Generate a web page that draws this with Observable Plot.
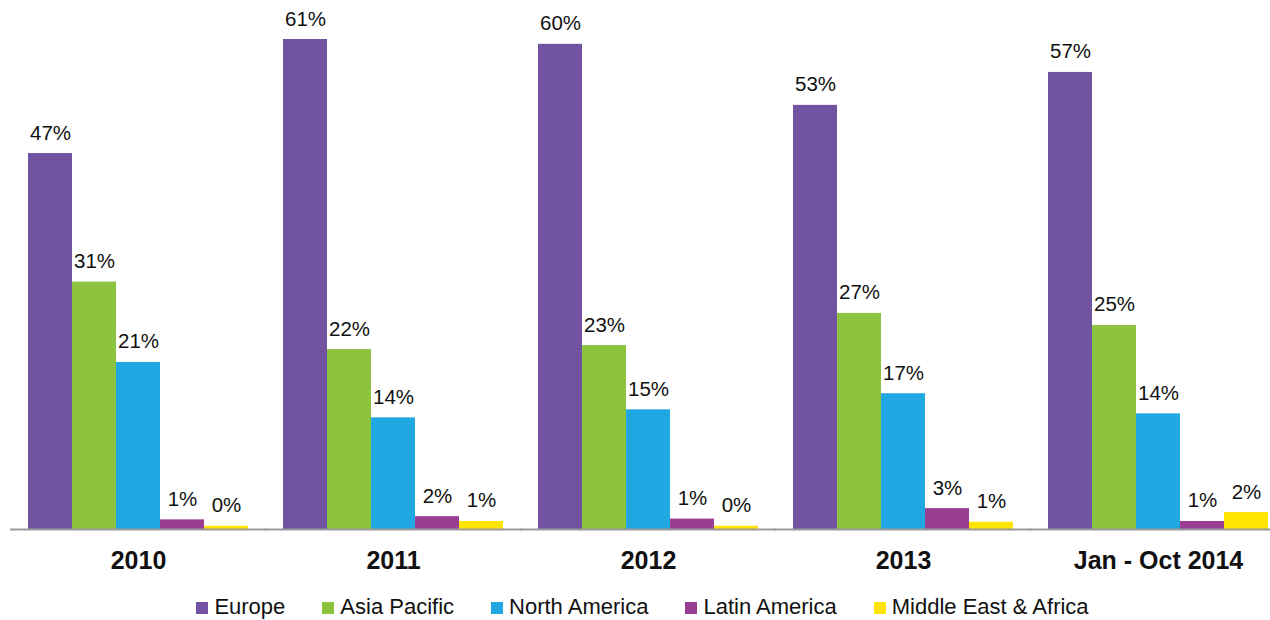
<!DOCTYPE html>
<html>
<head>
<meta charset="utf-8">
<script src="https://cdn.jsdelivr.net/npm/d3@7"></script>
<script src="https://cdn.jsdelivr.net/npm/@observablehq/plot@0.6"></script>
<style>
  html, body { margin: 0; padding: 0; background: #fff; overflow: hidden; width: 1270px; height: 620px; }
  body { font-family: "Liberation Sans", Arial, sans-serif; color: #111; }
  #chart { width: 1270px; height: 585px; overflow: hidden; }
  #chart svg { display: block; max-width: none !important; }
  #legend { display: flex; justify-content: center; gap: 37px; font-size: 22px; line-height: 22px; padding-left: 15px; width: 1270px; box-sizing: border-box; margin-top: 11px; white-space: nowrap; }
  #legend .item { display: inline-block; }
  #legend .sw { display: inline-block; width: 12px; height: 12px; margin-right: 6px; vertical-align: baseline; }
</style>
</head>
<body>
<div id="chart"></div>
<div id="legend"></div>
<script>
const groups = ["2010", "2011", "2012", "2013", "Jan - Oct 2014"];
const regions = ["Europe", "Asia Pacific", "North America", "Latin America", "Middle East & Africa"];
const colors = ["#7153a1", "#8cc43f", "#1fa8e1", "#9a3e94", "#ffe500"];

const europe       = [46.8, 61.0, 60.4, 52.8, 56.9];
const asiaPacific  = [30.8, 22.4, 22.9, 26.9, 25.4];
const northAmerica = [20.8, 13.9, 14.9, 16.9, 14.4];
const latinAmerica = [1.2, 1.6, 1.3, 2.6, 1.0];
const middleEastAfrica = [0.4, 1.0, 0.4, 0.9, 2.1];

const series = [europe, asiaPacific, northAmerica, latinAmerica, middleEastAfrica];
const data = [];
groups.forEach((g, gi) => {
  regions.forEach((r, ri) => {
    data.push({group: g, region: r, value: series[ri][gi]});
  });
});

const chart = Plot.plot({
  width: 1286,
  height: 585,
  marginLeft: 10,
  marginRight: 0,
  marginTop: 39,
  marginBottom: 56,
  style: {fontFamily: "'Liberation Sans', Arial, sans-serif", fontSize: "20px", color: "#111", background: "#fff"},
  fx: {domain: groups, paddingInner: 0.131, paddingOuter: 0.0626, label: null},
  x: {domain: regions, padding: 0, axis: null},
  y: {domain: [0, 61], axis: null},
  color: {domain: regions, range: colors},
  marks: [
    Plot.barY(data, {fx: "group", x: "region", y: "value", fill: "region", inset: 0}),
    Plot.ruleY([0], {stroke: "#9a9a9a", strokeWidth: 2, insetLeft: -17, insetRight: -17}),
    Plot.text(data, {fx: "group", x: "region", y: "value", text: d => Math.round(d.value) + "%", lineAnchor: "bottom", dy: -14, fontSize: 20.5, fill: "#111"}),
    Plot.axisFx({anchor: "bottom", tickSize: 0, tickPadding: 22, fontSize: 25, fontWeight: "bold", label: null, fill: "#111"})
  ]
});
document.getElementById("chart").appendChild(chart);

const legend = document.getElementById("legend");
regions.forEach((r, i) => {
  const item = document.createElement("span");
  item.className = "item";
  const sw = document.createElement("span");
  sw.className = "sw";
  sw.style.background = colors[i];
  item.appendChild(sw);
  item.appendChild(document.createTextNode(r));
  legend.appendChild(item);
});
</script>
</body>
</html>
